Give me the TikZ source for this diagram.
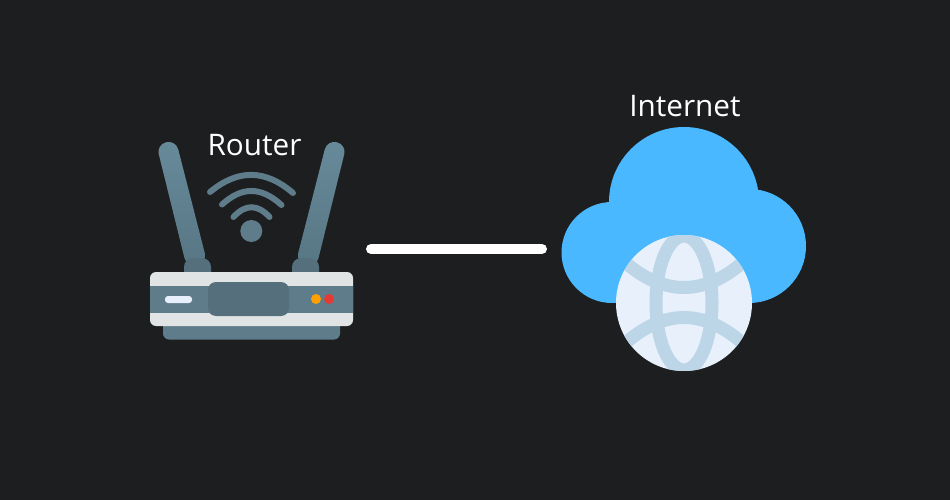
\documentclass[tikz,border=0pt]{standalone}
\usepackage{fontspec}
\setmainfont{Open Sans}
\usepackage{tikz}
\definecolor{bgdark}{HTML}{1C1E20}
\definecolor{antennatop}{HTML}{678A9A}
\definecolor{antennabot}{HTML}{587684}
\definecolor{steel}{HTML}{5F7C8B}
\definecolor{steeldark}{HTML}{566F7C}
\definecolor{shell}{HTML}{E1E4E5}
\definecolor{dotorange}{HTML}{FFA000}
\definecolor{dotred}{HTML}{E53935}
\definecolor{cloudblue}{HTML}{4AB8FF}
\definecolor{globefill}{HTML}{E8F0FB}
\definecolor{globeline}{HTML}{BCD6E8}
\tikzset{
  iconlabel/.style={white,font=\fontsize{29.7}{34}\selectfont},
  antennabar/.style={shade,top color=antennatop,bottom color=antennabot,rounded corners=9.7},
  wifiarc/.style={steel,line width=6,line cap=round},
  meridian/.style={globeline,line width=13},
}

\begin{document}
\begin{tikzpicture}[x=1pt,y=-1pt]
  \fill[bgdark] (0,0) rectangle (950,500);
  \useasboundingbox (0,0) rectangle (950,500);
  % router
  \path[antennabar] (156.4,144.7)--(175.8,139.9)--(207.2,262.5)--(186.8,267.5)--cycle;
  \path[antennabar] (346.6,144.7)--(327.2,139.9)--(295.8,262.5)--(316.2,267.5)--cycle;
  \fill[steeldark,rounded corners=9] (184,258) rectangle (211,285);
  \fill[steeldark,rounded corners=9] (292,258) rectangle (319,285);
  \fill[steel,rounded corners=6] (163,315) rectangle (340,339.5);
  \fill[shell,rounded corners=6] (150,272) rectangle (353,326);
  \fill[steel] (150,286) rectangle (353,313);
  \fill[steeldark,rounded corners=8] (208,282) rectangle (289,316);
  \fill[globefill,rounded corners=3] (165,296) rectangle (192,303);
  \fill[dotorange] (316,299) circle (5);
  \fill[dotred] (329,299) circle (5);
  % wifi
  \fill[steel] (251.3,231) circle (11);
  \draw[wifiarc] (210,192) .. controls (238,169) and (265,169) .. (293,193);
  \draw[wifiarc] (222,204.5) .. controls (242,186.4) and (261,186.4) .. (281.5,205);
  \draw[wifiarc] (233.5,217) .. controls (245.5,204) and (257.5,204) .. (269.5,217);
  \node[iconlabel] (routerlabel) at (254.5,145){Router};
  % link
  \coordinate (routerport) at (371,249);
  \coordinate (cloudport) at (542,249);
  \draw[white,line width=10,line cap=round] (routerport)--(cloudport);
  % cloud
  \fill[cloudblue] (684,202) circle (75);
  \fill[cloudblue] (612,252.5) circle (50.5);
  \fill[cloudblue] (749,246) circle (57);
  \fill[cloudblue] (612,220) rectangle (749,302.7);
  % globe
  \fill[globefill] (684,303) circle (68);
  \begin{scope}
    \clip (684,303) circle (68);
    \draw[meridian] (684,303) ellipse (28 and 67);
    \draw[meridian] (618,256) .. controls (662,298) and (706,298) .. (750,256);
    \draw[meridian] (618,350) .. controls (662,306.7) and (706,306.7) .. (750,350);
  \end{scope}
  \node[iconlabel] (cloudlabel) at (685,106){Internet};
\end{tikzpicture}
\end{document}
